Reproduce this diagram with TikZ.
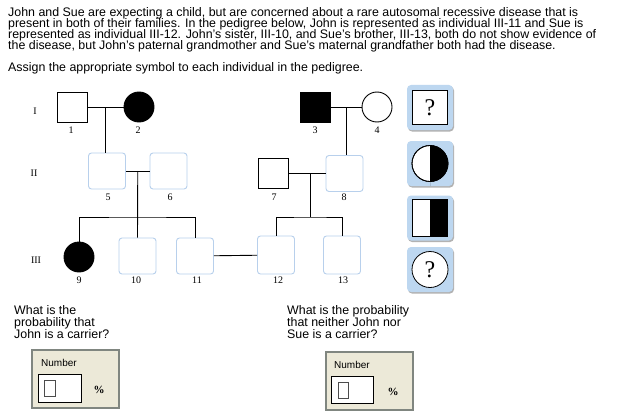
\documentclass[tikz,border=0pt]{standalone}
\usepackage{fontspec}
\setmainfont{Liberation Sans}
\newfontfamily\pedfont{Liberation Serif}
\usetikzlibrary{calc,shadows}

\newcommand\tightlines{\lineskiplimit-6pt\relax}

\definecolor{pedblue}{RGB}{184,208,236}
\definecolor{btnblue}{RGB}{189,215,240}
\definecolor{panelbg}{RGB}{236,233,216}
\definecolor{panelline}{RGB}{128,134,128}

\tikzset{
  male/.style={draw, line width=0.9pt, minimum size=30pt, inner sep=0pt},
  female/.style={draw, circle, line width=0.9pt, minimum size=30pt, inner sep=0pt},
  blank/.style={draw=pedblue, fill=white, rounded corners=3pt, line width=0.9pt,
    minimum width=37pt, minimum height=36pt, inner sep=0pt},
  numlbl/.style={font=\pedfont\fontsize{10}{10}\selectfont, inner sep=0pt},
  link/.style={line width=0.9pt},
  button/.style={fill=btnblue, rounded corners=4pt, minimum width=46pt, minimum height=45pt,
    inner sep=0pt, drop shadow={shadow xshift=1pt, shadow yshift=-1.5pt, fill=black!30, opacity=1}},
  qtext/.style={font=\fontsize{12.4}{12}\selectfont\tightlines, align=left, inner sep=0pt, anchor=north west},
  panel/.style={fill=panelbg, draw=panelline, line width=2pt, minimum width=87pt, minimum height=58pt},
  entry/.style={fill=white, draw, line width=0.8pt, minimum width=43pt, minimum height=28pt},
  cursor/.style={draw=black!70, line width=0.6pt, minimum width=11pt, minimum height=16pt, inner sep=0pt}
}

\begin{document}
\begin{tikzpicture}[x=1pt,y=-1pt]
  \useasboundingbox[fill=white] (0,0) rectangle (628,417);

  % the question
  \node[qtext, font=\fontsize{12.4}{11}\selectfont\tightlines] (intro) at (8,7.5)
    {John and Sue are expecting a child, but are concerned about a rare autosomal recessive disease that is\\
     present in both of their families. In the pedigree below, John is represented as individual III-11 and Sue is\\
     represented as individual III-12. John's sister, III-10, and Sue's brother, III-13, both do not show evidence of\\
     the disease, but John's paternal grandmother and Sue's maternal grandfather both had the disease.};
  \node[qtext] (task) at (8,62)
    {Assign the appropriate symbol to each individual in the pedigree.};

  % generations
  \node[numlbl] (g1) at (35,111) {I};
  \node[numlbl] (g2) at (34,173) {II};
  \node[numlbl] (g3) at (36,260) {III};

  % generation I
  \node[male]               (i1) at (72,107) {};
  \node[female, fill=black] (i2) at (139,107) {};
  \node[male, fill=black]   (i3) at (315,107) {};
  \node[female]             (i4) at (377,107) {};

  % generation II
  \node[blank] (i5) at (107,171) {};
  \node[blank] (i6) at (168.5,171) {};
  \node[male]  (i7) at (273.5,173) {};
  \node[blank] (i8) at (344.5,173.5) {};

  % generation III
  \node[female, fill=black] (i9) at (79,257) {};
  \node[blank] (i10) at (137.5,256) {};
  \node[blank] (i11) at (195,256) {};
  \node[blank, minimum height=38pt] (i12) at (276,255) {};
  \node[blank, minimum height=38pt] (i13) at (342,255) {};

  % numbers under the symbols
  \foreach \n/\x/\y in {1/71/130, 2/138/130, 3/315/130, 4/377/130,
                        5/108/197, 6/170/197, 7/274/197, 8/344/197,
                        9/79/280, 10/136/280, 11/197/280, 12/278/280, 13/343/280}
    \node[numlbl] (n\n) at (\x,\y) {\n};

  % matings
  \coordinate (m12) at ($(i1.east)!.5!(i2.west)$);
  \coordinate (m34) at ($(i3.east)!.5!(i4.west)$);
  \coordinate (m56) at ($(i5.east)!.5!(i6.west)$);
  \coordinate (m78) at ($(i7.east)!.6!(i8.west)$);
  \draw[link] (i1) -- (i2);
  \draw[link] (i3) -- (i4);
  \draw[link] (i5) -- (i6);
  \draw[link] (i7.east) -- (i8.west |- i7.east);
  \draw[link] (i11) -- (i12);

  % descents
  \draw[link] (m12) -- (m12 |- i5.north);
  \draw[link] (m34) -- (m34 |- i8.north);
  \coordinate (s56) at (m56 |- 0,217);
  \coordinate (s78) at (m78 |- 0,217);
  \draw[link] (m56) -- (i10.north);
  \draw[link] (i9.north) |- (s56) -| (i11.north);
  \draw[link] (m78) -- (s78);
  \draw[link] (i12.north) |- (s78) -| (i13.north);

  % symbol buttons
  \node[button] (b1) at (430,107.5) {};
  \node[button] (b2) at (430,163.5) {};
  \node[button] (b3) at (430,218) {};
  \node[button] (b4) at (430,269.5) {};
  \node[draw, fill=white, line width=0.7pt, minimum width=35pt, minimum height=34pt,
        font=\pedfont\fontsize{24}{24}\selectfont] (q1) at (b1) {?};
  \filldraw[fill=white, line width=0.8pt] (b2) circle (18);
  \fill (b2) -- +(90:18) arc[start angle=90, end angle=-90, radius=18] -- cycle;
  \draw[line width=0.8pt] (b2) circle (18);
  \node[draw, fill=white, line width=0.7pt, minimum width=35pt, minimum height=37pt] (q3) at (b3) {};
  \fill (b3 |- q3.north) rectangle (q3.south east);
  \node[draw, circle, fill=white, line width=0.8pt, minimum size=36pt, inner sep=0pt,
        font=\pedfont\fontsize{24}{24}\selectfont] (q4) at (b4) {?};

  % questions
  \node[qtext] (ask1) at (14,305) {What is the\\probability that\\John is a carrier?};
  \node[qtext] (ask2) at (287,305) {What is the probability\\that neither John nor\\Sue is a carrier?};

  % answer panels
  \node[panel] (p1) at (75.5,379) {};
  \node[qtext, font=\fontsize{10}{10}\selectfont, anchor=west] (w1) at (41,363) {Number};
  \node[entry] (e1) at (59.5,388) {};
  \node[cursor] (c1) at (49.5,388) {};
  \node[numlbl, font=\pedfont\fontsize{11}{11}\selectfont\bfseries] (u1) at (99,390) {\%};

  \node[panel] (p2) at (369,381) {};
  \node[qtext, font=\fontsize{10}{10}\selectfont, anchor=west] (w2) at (334,365) {Number};
  \node[entry, minimum width=42pt, minimum height=27pt] (e2) at (352,389.5) {};
  \node[cursor, minimum width=10pt] (c2) at (343,390) {};
  \node[numlbl, font=\pedfont\fontsize{11}{11}\selectfont\bfseries] (u2) at (393,392) {\%};
\end{tikzpicture}
\end{document}
